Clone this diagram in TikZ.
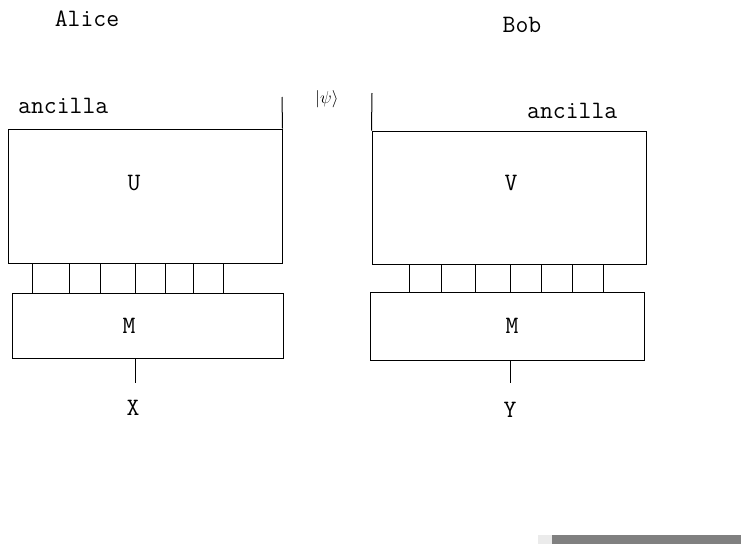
\documentclass[tikz,border=0pt]{standalone}
\usetikzlibrary{positioning, calc}
\tikzset{
    gate/.style={rectangle, draw, line width=1pt, inner sep=0pt},
    wire/.style={line width=1pt},
    name label/.style={font=\fontsize{25}{27}\selectfont\ttfamily, inner sep=0pt},
    box label/.style={font=\fontsize{25}{27}\selectfont\ttfamily, inner sep=0pt}
}

\begin{document}
\begin{tikzpicture}[x=1pt, y=-1pt]
    \useasboundingbox (0,0) rectangle (741,544);

    % Parties
    \node[name label] (alice) at (87,19) {Alice};
    \node[name label] (bob) at (522,25) {Bob};

    % Alice's side
    \node[gate, minimum width=274pt, minimum height=134pt] (U) at (145,196) {};
    \node[gate, minimum width=271pt, minimum height=65pt] (MA) at (147.5,325.5) {};
    \node[box label] (ulab) at (134,183) {U};
    \node[box label] (malab) at (129,326) {M};
    \node[box label, anchor=west] (ancA) at (18,106) {ancilla};
    \coordinate (ancAin) at (282,97);
    \coordinate (xout) at (135,383);
    \node[box label] (xlab) at (133,408) {X};

    % Bob's side
    \node[gate, minimum width=274pt, minimum height=133pt] (V) at (509,197.5) {};
    \node[gate, minimum width=274pt, minimum height=68pt] (MB) at (507,326) {};
    \node[box label] (vlab) at (511,183) {V};
    \node[box label] (mblab) at (512,326) {M};
    \node[box label, anchor=west] (ancB) at (527,111) {ancilla};
    \coordinate (psiin) at (372,93);
    \node[inner sep=0pt, font=\fontsize{16}{18}\selectfont] (psi) at (327,99) {$|\psi\rangle$};
    \coordinate (yout) at (510,383);
    \node[box label] (ylab) at (510,410) {Y};

    % Wires
    \draw[wire] (U.north east) -- (ancAin);
    \draw[wire] (V.north west) -- (psiin);
    \foreach \x in {32,69,100,135,165,193,223}
        \draw[wire] (U.south -| {\x,0}) -- (MA.north -| {\x,0});
    \foreach \x in {409,441,475,510,541,572,603}
        \draw[wire] (V.south -| {\x,0}) -- (MB.north -| {\x,0});
    \draw[wire] (MA.south -| xout) -- (xout);
    \draw[wire] (MB.south -| yout) -- (yout);

    % Bar at the foot
    \fill[black!8] (538,535) rectangle (552,544);
    \fill[black!50] (552,535) rectangle (741,544);
\end{tikzpicture}
\end{document}
